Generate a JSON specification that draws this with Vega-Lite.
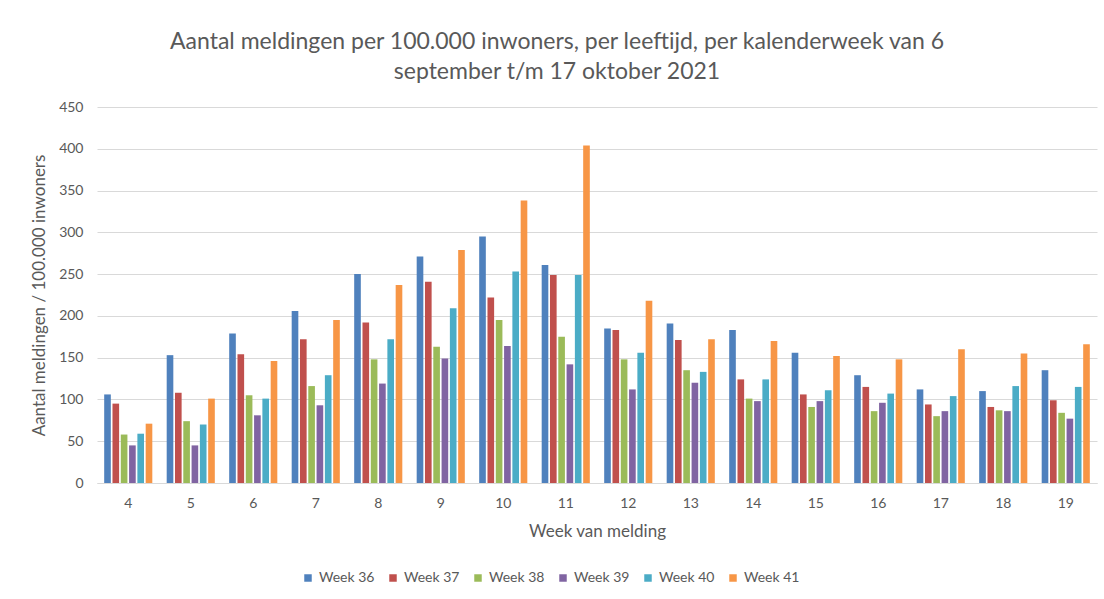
{
  "$schema": "https://vega.github.io/schema/vega-lite/v6.json",
  "width": 1000,
  "height": 376,
  "autosize": {"type": "none"},
  "padding": {"left": 97, "top": 107, "right": 7, "bottom": 116},
  "background": "white",
  "title": {
    "text": ["Aantal meldingen per 100.000 inwoners, per leeftijd, per kalenderweek van 6", "september t/m 17 oktober 2021"],
    "anchor": "middle",
    "dx": -40,
    "offset": 16,
    "fontSize": 23,
    "lineHeight": 30,
    "font": "Lato",
    "fontWeight": "normal",
    "color": "#595959"
  },
  "data": {
    "values": [
      {"leeftijd": 4, "week": "Week 36", "waarde": 106},
      {"leeftijd": 4, "week": "Week 37", "waarde": 95},
      {"leeftijd": 4, "week": "Week 38", "waarde": 58},
      {"leeftijd": 4, "week": "Week 39", "waarde": 45},
      {"leeftijd": 4, "week": "Week 40", "waarde": 59},
      {"leeftijd": 4, "week": "Week 41", "waarde": 71},
      {"leeftijd": 5, "week": "Week 36", "waarde": 153},
      {"leeftijd": 5, "week": "Week 37", "waarde": 108},
      {"leeftijd": 5, "week": "Week 38", "waarde": 74},
      {"leeftijd": 5, "week": "Week 39", "waarde": 45},
      {"leeftijd": 5, "week": "Week 40", "waarde": 70},
      {"leeftijd": 5, "week": "Week 41", "waarde": 101},
      {"leeftijd": 6, "week": "Week 36", "waarde": 179},
      {"leeftijd": 6, "week": "Week 37", "waarde": 154},
      {"leeftijd": 6, "week": "Week 38", "waarde": 105},
      {"leeftijd": 6, "week": "Week 39", "waarde": 81},
      {"leeftijd": 6, "week": "Week 40", "waarde": 101},
      {"leeftijd": 6, "week": "Week 41", "waarde": 146},
      {"leeftijd": 7, "week": "Week 36", "waarde": 206},
      {"leeftijd": 7, "week": "Week 37", "waarde": 172},
      {"leeftijd": 7, "week": "Week 38", "waarde": 116},
      {"leeftijd": 7, "week": "Week 39", "waarde": 93},
      {"leeftijd": 7, "week": "Week 40", "waarde": 129},
      {"leeftijd": 7, "week": "Week 41", "waarde": 195},
      {"leeftijd": 8, "week": "Week 36", "waarde": 250},
      {"leeftijd": 8, "week": "Week 37", "waarde": 192},
      {"leeftijd": 8, "week": "Week 38", "waarde": 148},
      {"leeftijd": 8, "week": "Week 39", "waarde": 119},
      {"leeftijd": 8, "week": "Week 40", "waarde": 172},
      {"leeftijd": 8, "week": "Week 41", "waarde": 237},
      {"leeftijd": 9, "week": "Week 36", "waarde": 271},
      {"leeftijd": 9, "week": "Week 37", "waarde": 241},
      {"leeftijd": 9, "week": "Week 38", "waarde": 163},
      {"leeftijd": 9, "week": "Week 39", "waarde": 149},
      {"leeftijd": 9, "week": "Week 40", "waarde": 209},
      {"leeftijd": 9, "week": "Week 41", "waarde": 279},
      {"leeftijd": 10, "week": "Week 36", "waarde": 295},
      {"leeftijd": 10, "week": "Week 37", "waarde": 222},
      {"leeftijd": 10, "week": "Week 38", "waarde": 195},
      {"leeftijd": 10, "week": "Week 39", "waarde": 164},
      {"leeftijd": 10, "week": "Week 40", "waarde": 253},
      {"leeftijd": 10, "week": "Week 41", "waarde": 338},
      {"leeftijd": 11, "week": "Week 36", "waarde": 261},
      {"leeftijd": 11, "week": "Week 37", "waarde": 249},
      {"leeftijd": 11, "week": "Week 38", "waarde": 175},
      {"leeftijd": 11, "week": "Week 39", "waarde": 142},
      {"leeftijd": 11, "week": "Week 40", "waarde": 249},
      {"leeftijd": 11, "week": "Week 41", "waarde": 404},
      {"leeftijd": 12, "week": "Week 36", "waarde": 185},
      {"leeftijd": 12, "week": "Week 37", "waarde": 183},
      {"leeftijd": 12, "week": "Week 38", "waarde": 148},
      {"leeftijd": 12, "week": "Week 39", "waarde": 112},
      {"leeftijd": 12, "week": "Week 40", "waarde": 156},
      {"leeftijd": 12, "week": "Week 41", "waarde": 218},
      {"leeftijd": 13, "week": "Week 36", "waarde": 191},
      {"leeftijd": 13, "week": "Week 37", "waarde": 171},
      {"leeftijd": 13, "week": "Week 38", "waarde": 135},
      {"leeftijd": 13, "week": "Week 39", "waarde": 120},
      {"leeftijd": 13, "week": "Week 40", "waarde": 133},
      {"leeftijd": 13, "week": "Week 41", "waarde": 172},
      {"leeftijd": 14, "week": "Week 36", "waarde": 183},
      {"leeftijd": 14, "week": "Week 37", "waarde": 124},
      {"leeftijd": 14, "week": "Week 38", "waarde": 101},
      {"leeftijd": 14, "week": "Week 39", "waarde": 98},
      {"leeftijd": 14, "week": "Week 40", "waarde": 124},
      {"leeftijd": 14, "week": "Week 41", "waarde": 170},
      {"leeftijd": 15, "week": "Week 36", "waarde": 156},
      {"leeftijd": 15, "week": "Week 37", "waarde": 106},
      {"leeftijd": 15, "week": "Week 38", "waarde": 91},
      {"leeftijd": 15, "week": "Week 39", "waarde": 98},
      {"leeftijd": 15, "week": "Week 40", "waarde": 111},
      {"leeftijd": 15, "week": "Week 41", "waarde": 152},
      {"leeftijd": 16, "week": "Week 36", "waarde": 129},
      {"leeftijd": 16, "week": "Week 37", "waarde": 115},
      {"leeftijd": 16, "week": "Week 38", "waarde": 86},
      {"leeftijd": 16, "week": "Week 39", "waarde": 96},
      {"leeftijd": 16, "week": "Week 40", "waarde": 107},
      {"leeftijd": 16, "week": "Week 41", "waarde": 148},
      {"leeftijd": 17, "week": "Week 36", "waarde": 112},
      {"leeftijd": 17, "week": "Week 37", "waarde": 94},
      {"leeftijd": 17, "week": "Week 38", "waarde": 80},
      {"leeftijd": 17, "week": "Week 39", "waarde": 86},
      {"leeftijd": 17, "week": "Week 40", "waarde": 104},
      {"leeftijd": 17, "week": "Week 41", "waarde": 160},
      {"leeftijd": 18, "week": "Week 36", "waarde": 110},
      {"leeftijd": 18, "week": "Week 37", "waarde": 91},
      {"leeftijd": 18, "week": "Week 38", "waarde": 87},
      {"leeftijd": 18, "week": "Week 39", "waarde": 86},
      {"leeftijd": 18, "week": "Week 40", "waarde": 116},
      {"leeftijd": 18, "week": "Week 41", "waarde": 155},
      {"leeftijd": 19, "week": "Week 36", "waarde": 135},
      {"leeftijd": 19, "week": "Week 37", "waarde": 99},
      {"leeftijd": 19, "week": "Week 38", "waarde": 84},
      {"leeftijd": 19, "week": "Week 39", "waarde": 77},
      {"leeftijd": 19, "week": "Week 40", "waarde": 115},
      {"leeftijd": 19, "week": "Week 41", "waarde": 166}
    ]
  },
  "mark": {"type": "bar"},
  "encoding": {
    "x": {
      "field": "leeftijd",
      "type": "ordinal",
      "scale": {"paddingInner": 0.23, "paddingOuter": 0.115},
      "axis": {
        "title": "Week van melding",
        "labelAngle": 0,
        "ticks": false,
        "labelPadding": 13,
        "titlePadding": 13,
        "domainColor": "#D9D9D9",
        "domainWidth": 1
      }
    },
    "xOffset": {
      "field": "week",
      "type": "nominal",
      "scale": {"paddingInner": 0.2, "paddingOuter": 0}
    },
    "y": {
      "field": "waarde",
      "type": "quantitative",
      "scale": {"domain": [0, 450]},
      "axis": {
        "title": "Aantal meldingen / 100.000 inwoners",
        "values": [0, 50, 100, 150, 200, 250, 300, 350, 400, 450],
        "ticks": false,
        "domain": false,
        "labelPadding": 14,
        "titlePadding": 10,
        "gridColor": "#D9D9D9",
        "gridWidth": 1
      }
    },
    "color": {
      "field": "week",
      "type": "nominal",
      "scale": {
        "domain": ["Week 36", "Week 37", "Week 38", "Week 39", "Week 40", "Week 41"],
        "range": ["#4F81BD", "#C0504D", "#9BBB59", "#8064A2", "#4BACC6", "#F79646"]
      },
      "legend": {
        "title": null,
        "orient": "none",
        "direction": "horizontal",
        "legendX": 204,
        "legendY": 464,
        "symbolType": "square",
        "symbolSize": 56,
        "symbolStrokeWidth": 0,
        "labelFontSize": 14,
        "labelFont": "Lato",
        "labelColor": "#595959",
        "labelOffset": 4,
        "columnPadding": 11
      }
    }
  },
  "config": {
    "view": {"stroke": null},
    "axis": {
      "labelFont": "Lato",
      "labelFontSize": 14,
      "labelColor": "#595959",
      "titleFont": "Lato",
      "titleFontSize": 17,
      "titleFontWeight": "normal",
      "titleColor": "#595959"
    }
  }
}
